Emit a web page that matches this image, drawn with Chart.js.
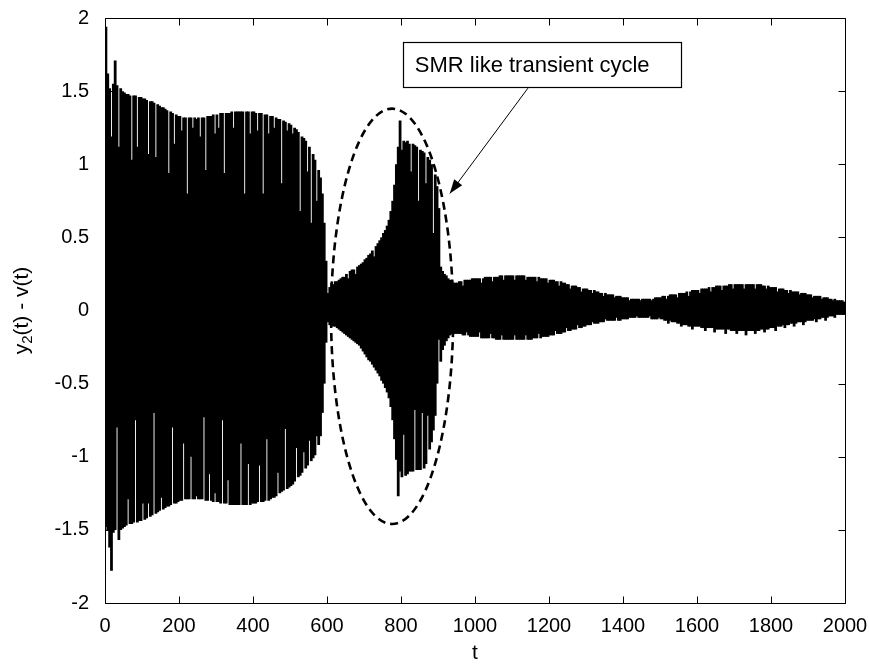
<!DOCTYPE html>
<html>
<head>
<meta charset="utf-8">
<script src="https://cdn.jsdelivr.net/npm/chart.js@4.4.1/dist/chart.umd.min.js"></script>
<style>
  html, body { margin: 0; padding: 0; background: #fff; }
  #wrap { width: 869px; height: 665px; }
</style>
</head>
<body>
<div id="wrap"><canvas id="myBarChart" width="869" height="665"></canvas></div>
<script>
// trace: one oscillation cycle every 5 time units,
// each cycle kept as its positive peak and its negative peak
const tStart = 2.5;
const tStep = 5;
const xTicks = [0, 200, 400, 600, 800, 1000, 1200, 1400, 1600, 1800, 2000];
const yTicks = [-2, -1.5, -1, -0.5, 0, 0.5, 1, 1.5, 2];

const upperPeaks = [
  // 0 - 95
  1.94, 1.62, 1.52, 1.19, 1.55, 1.71, 1.54, 1.12, 1.52, 1.50, 1.49, 1.48, 1.48, 1.47, 1.03, 1.47, 1.47, 1.12, 1.46, 1.46,
  // 100 - 195
  1.45, 1.45, 1.44, 1.07, 1.43, 1.43, 1.42, 1.05, 1.41, 1.40, 1.39, 1.39, 1.38, 1.37, 0.94, 1.36, 1.35, 1.14, 1.34, 1.33,
  // 200 - 295
  1.33, 1.23, 1.32, 1.32, 0.80, 1.32, 1.32, 1.25, 1.32, 1.31, 1.32, 1.19, 1.32, 1.32, 0.96, 1.33, 1.33, 1.33, 1.34, 1.21,
  // 300 - 395
  1.34, 1.25, 1.35, 1.35, 0.94, 1.35, 1.35, 1.35, 1.36, 1.25, 1.36, 1.36, 1.36, 1.36, 1.36, 0.80, 1.36, 1.36, 1.21, 1.36,
  // 400 - 495
  1.36, 1.35, 1.23, 1.35, 1.35, 0.80, 1.34, 1.34, 1.21, 1.33, 1.33, 1.25, 1.32, 1.31, 1.31, 0.87, 1.30, 1.29, 1.23, 1.28,
  // 500 - 595
  1.27, 1.21, 1.25, 1.24, 1.22, 0.68, 1.19, 1.18, 1.16, 0.95, 1.12, 0.60, 1.07, 1.03, 0.75, 0.96, 0.91, 0.80, 0.60, 0.34,
  // 600 - 695
  0.12, 0.16, 0.19, 0.18, 0.20, 0.20, 0.21, 0.22, 0.23, 0.23, 0.25, 0.22, 0.27, 0.28, 0.28, 0.25, 0.30, 0.31, 0.32, 0.33,
  // 700 - 795
  0.35, 0.36, 0.38, 0.39, 0.41, 0.37, 0.44, 0.46, 0.48, 0.50, 0.53, 0.55, 0.58, 0.62, 0.68, 0.75, 0.86, 1.00, 1.12, 1.30,
  // 800 - 895
  1.10, 1.16, 1.15, 1.16, 1.14, 0.95, 1.14, 1.13, 1.12, 0.75, 1.10, 1.09, 1.08, 0.87, 1.05, 1.03, 1.00, 0.53, 0.93, 0.85,
  // 900 - 995
  0.70, 0.30, 0.27, 0.25, 0.24, 0.22, 0.21, 0.20, 0.19, 0.19, 0.19, 0.20, 0.20, 0.17, 0.21, 0.21, 0.21, 0.21, 0.22, 0.22,
  // 1000 - 1095
  0.22, 0.22, 0.22, 0.19, 0.22, 0.23, 0.23, 0.23, 0.23, 0.20, 0.23, 0.23, 0.23, 0.24, 0.24, 0.21, 0.24, 0.24, 0.24, 0.24,
  // 1100 - 1195
  0.24, 0.21, 0.24, 0.24, 0.24, 0.24, 0.24, 0.21, 0.23, 0.23, 0.23, 0.23, 0.23, 0.20, 0.23, 0.22, 0.22, 0.22, 0.22, 0.19,
  // 1200 - 1295
  0.21, 0.21, 0.21, 0.20, 0.20, 0.17, 0.20, 0.19, 0.19, 0.18, 0.18, 0.15, 0.17, 0.17, 0.17, 0.16, 0.16, 0.13, 0.15, 0.15,
  // 1300 - 1395
  0.15, 0.14, 0.14, 0.12, 0.14, 0.13, 0.13, 0.12, 0.12, 0.10, 0.12, 0.11, 0.11, 0.11, 0.11, 0.09, 0.10, 0.10, 0.10, 0.09,
  // 1400 - 1495
  0.09, 0.09, 0.09, 0.07, 0.08, 0.08, 0.08, 0.08, 0.08, 0.07, 0.08, 0.08, 0.08, 0.08, 0.08, 0.07, 0.08, 0.09, 0.09, 0.09,
  // 1500 - 1595
  0.09, 0.10, 0.10, 0.08, 0.10, 0.11, 0.11, 0.11, 0.11, 0.09, 0.12, 0.12, 0.12, 0.12, 0.13, 0.10, 0.13, 0.14, 0.14, 0.14,
  // 1600 - 1695
  0.14, 0.12, 0.15, 0.15, 0.15, 0.15, 0.16, 0.13, 0.16, 0.16, 0.17, 0.17, 0.17, 0.14, 0.17, 0.17, 0.17, 0.18, 0.18, 0.15,
  // 1700 - 1795
  0.18, 0.18, 0.18, 0.18, 0.18, 0.15, 0.18, 0.18, 0.18, 0.18, 0.18, 0.15, 0.18, 0.18, 0.18, 0.17, 0.17, 0.15, 0.17, 0.16,
  // 1800 - 1895
  0.16, 0.16, 0.16, 0.13, 0.15, 0.15, 0.15, 0.14, 0.14, 0.12, 0.14, 0.13, 0.13, 0.13, 0.13, 0.11, 0.12, 0.12, 0.12, 0.11,
  // 1900 - 1995
  0.11, 0.11, 0.09, 0.10, 0.10, 0.10, 0.10, 0.08, 0.09, 0.09, 0.09, 0.08, 0.08, 0.07, 0.08, 0.07, 0.07, 0.07, 0.07, 0.06,
  // 2000
  0.06
];

const lowerPeaks = [
  // 0 - 95
  -1.48, -1.50, -1.62, -1.78, -1.52, -1.50, -0.80, -1.57, -1.50, -1.49, -1.48, -1.47, -1.29, -1.46, -1.46, -1.45, -0.75, -1.45, -1.44, -1.44,
  // 100 - 195
  -1.32, -1.43, -1.42, -1.32, -1.41, -1.40, -0.70, -1.39, -1.38, -1.37, -1.28, -1.36, -1.35, -1.34, -1.34, -1.33, -0.80, -1.32, -1.32, -1.31,
  // 200 - 295
  -1.30, -1.30, -0.91, -1.29, -1.29, -1.29, -1.00, -1.29, -1.29, -1.27, -1.29, -1.29, -1.29, -0.73, -1.30, -1.30, -1.12, -1.30, -1.31, -1.25,
  // 300 - 395
  -1.31, -1.31, -1.32, -0.75, -1.32, -1.32, -1.16, -1.33, -1.33, -1.33, -1.33, -1.33, -1.33, -0.91, -1.33, -1.33, -1.33, -1.05, -1.33, -1.32,
  // 400 - 495
  -1.32, -1.32, -1.31, -1.06, -1.31, -1.31, -1.30, -0.88, -1.30, -1.29, -1.28, -1.28, -1.27, -1.11, -1.25, -1.24, -1.23, -0.81, -1.22, -1.21,
  // 500 - 595
  -1.20, -1.19, -1.17, -0.94, -1.14, -1.13, -1.11, -0.97, -1.08, -1.06, -0.89, -1.03, -1.01, -0.99, -0.86, -0.92, -0.86, -0.70, -0.50, -0.22,
  // 600 - 695
  -0.08, -0.10, -0.10, -0.11, -0.11, -0.12, -0.13, -0.14, -0.15, -0.16, -0.17, -0.18, -0.19, -0.20, -0.21, -0.22, -0.23, -0.24, -0.26, -0.28,
  // 700 - 795
  -0.30, -0.32, -0.34, -0.35, -0.37, -0.39, -0.41, -0.43, -0.45, -0.48, -0.50, -0.53, -0.56, -0.60, -0.66, -0.75, -0.88, -1.02, -1.27, -1.10,
  // 800 - 895
  -1.14, -0.85, -1.13, -1.12, -1.10, -1.10, -1.10, -0.68, -1.09, -1.09, -1.09, -0.70, -1.08, -1.05, -0.72, -0.95, -0.90, -0.82, -0.72, -0.50,
  // 900 - 995
  -0.20, -0.35, -0.27, -0.24, -0.21, -0.19, -0.17, -0.16, -0.16, -0.16, -0.16, -0.16, -0.16, -0.17, -0.17, -0.15, -0.17, -0.18, -0.18, -0.18,
  // 1000 - 1095
  -0.18, -0.18, -0.15, -0.19, -0.19, -0.19, -0.19, -0.19, -0.16, -0.19, -0.19, -0.20, -0.20, -0.20, -0.17, -0.20, -0.20, -0.20, -0.20, -0.20,
  // 1100 - 1195
  -0.20, -0.17, -0.20, -0.20, -0.20, -0.20, -0.20, -0.17, -0.20, -0.20, -0.20, -0.19, -0.19, -0.19, -0.16, -0.19, -0.18, -0.18, -0.18, -0.18,
  // 1200 - 1295
  -0.17, -0.17, -0.17, -0.14, -0.16, -0.16, -0.16, -0.15, -0.15, -0.12, -0.14, -0.14, -0.13, -0.13, -0.13, -0.10, -0.12, -0.12, -0.11, -0.11,
  // 1300 - 1395
  -0.10, -0.10, -0.10, -0.08, -0.09, -0.09, -0.09, -0.08, -0.08, -0.08, -0.06, -0.07, -0.07, -0.07, -0.07, -0.07, -0.05, -0.07, -0.07, -0.06,
  // 1400 - 1495
  -0.06, -0.06, -0.06, -0.05, -0.05, -0.05, -0.05, -0.04, -0.05, -0.05, -0.05, -0.05, -0.05, -0.05, -0.04, -0.06, -0.06, -0.06, -0.06, -0.05,
  // 1500 - 1595
  -0.06, -0.06, -0.07, -0.07, -0.09, -0.07, -0.08, -0.08, -0.08, -0.09, -0.09, -0.11, -0.10, -0.10, -0.10, -0.11, -0.11, -0.13, -0.11, -0.11,
  // 1600 - 1695
  -0.11, -0.11, -0.12, -0.12, -0.14, -0.12, -0.12, -0.12, -0.12, -0.15, -0.13, -0.13, -0.13, -0.13, -0.13, -0.16, -0.13, -0.13, -0.14, -0.14,
  // 1700 - 1795
  -0.14, -0.16, -0.14, -0.14, -0.14, -0.14, -0.17, -0.14, -0.14, -0.14, -0.14, -0.16, -0.14, -0.14, -0.13, -0.13, -0.15, -0.13, -0.13, -0.12,
  // 1800 - 1895
  -0.12, -0.12, -0.14, -0.11, -0.11, -0.11, -0.10, -0.12, -0.10, -0.10, -0.09, -0.09, -0.11, -0.09, -0.08, -0.08, -0.08, -0.10, -0.08, -0.07,
  // 1900 - 1995
  -0.07, -0.07, -0.07, -0.06, -0.08, -0.06, -0.06, -0.05, -0.05, -0.07, -0.05, -0.04, -0.04, -0.04, -0.05, -0.03, -0.03, -0.03, -0.03, -0.03,
  // 2000
  -0.03
];

// one floating bar per cycle, spanning its negative to its positive peak
const cycleBars = upperPeaks.map((u, i) => ({ x: tStart + i * tStep, y: [lowerPeaks[i], u] }));

const FONT = '"Liberation Sans", Arial, Helvetica, sans-serif';

// box, inward ticks, axis titles and the annotation
const frameAndNotes = {
  id: 'frameAndNotes',
  afterDatasetsDraw(chart) {
    const ctx = chart.ctx;
    const a = chart.chartArea;
    const xs = chart.scales.x;
    const ys = chart.scales.y;
    const L = Math.round(a.left) + 0.5, R = Math.round(a.right) + 0.5;
    const T = Math.round(a.top) + 0.5, B = Math.round(a.bottom) + 0.5;
    const tick = 7;

    ctx.save();
    ctx.strokeStyle = '#000';
    ctx.lineWidth = 1;
    ctx.beginPath();
    ctx.rect(L, T, R - L, B - T);
    xTicks.forEach(v => {
      const px = Math.round(xs.getPixelForValue(v)) + 0.5;
      ctx.moveTo(px, B); ctx.lineTo(px, B - tick);
      ctx.moveTo(px, T); ctx.lineTo(px, T + tick);
    });
    yTicks.forEach(v => {
      const py = Math.round(ys.getPixelForValue(v)) + 0.5;
      ctx.moveTo(L, py); ctx.lineTo(L + tick, py);
      ctx.moveTo(R, py); ctx.lineTo(R - tick, py);
    });
    ctx.stroke();

    // dashed ellipse around the transient
    const cx = xs.getPixelForValue(776);
    const cy = ys.getPixelForValue(-0.04);
    const rx = xs.getPixelForValue(776 + 165) - cx;
    const ry = cy - ys.getPixelForValue(-0.04 + 1.42);
    ctx.beginPath();
    ctx.setLineDash([8, 5]);
    ctx.lineWidth = 2.6;
    ctx.ellipse(cx, cy, rx, ry, 0, 0, Math.PI * 2);
    ctx.stroke();
    ctx.setLineDash([]);

    // text box
    const bx1 = xs.getPixelForValue(805), bx2 = xs.getPixelForValue(1557);
    const by1 = ys.getPixelForValue(1.836), by2 = ys.getPixelForValue(1.528);
    ctx.fillStyle = '#fff';
    ctx.fillRect(bx1, by1, bx2 - bx1, by2 - by1);
    ctx.lineWidth = 1.2;
    ctx.strokeRect(Math.round(bx1) + 0.5, Math.round(by1) + 0.5, Math.round(bx2 - bx1), Math.round(by2 - by1));
    ctx.fillStyle = '#000';
    ctx.font = '22px ' + FONT;
    ctx.textAlign = 'left';
    ctx.textBaseline = 'middle';
    ctx.fillText('SMR like transient cycle', bx1 + 12, (by1 + by2) / 2 + 1);

    // arrow from the box to the ellipse
    const ax1 = xs.getPixelForValue(1143), ay1 = ys.getPixelForValue(1.52);
    const ax2 = xs.getPixelForValue(932), ay2 = ys.getPixelForValue(0.80);
    const ang = Math.atan2(ay2 - ay1, ax2 - ax1);
    ctx.lineWidth = 1;
    ctx.beginPath();
    ctx.moveTo(ax1, ay1);
    ctx.lineTo(ax2, ay2);
    ctx.stroke();
    const hl = 14, hw = 5;
    ctx.beginPath();
    ctx.moveTo(ax2, ay2);
    ctx.lineTo(ax2 - hl * Math.cos(ang) + hw * Math.sin(ang), ay2 - hl * Math.sin(ang) - hw * Math.cos(ang));
    ctx.lineTo(ax2 - hl * Math.cos(ang) - hw * Math.sin(ang), ay2 - hl * Math.sin(ang) + hw * Math.cos(ang));
    ctx.closePath();
    ctx.fill();

    // x title
    ctx.font = '21px ' + FONT;
    ctx.textAlign = 'center';
    ctx.textBaseline = 'middle';
    ctx.fillText('t', (a.left + a.right) / 2, 653);

    // y title with subscript, rotated
    ctx.translate(22, (a.top + a.bottom) / 2);
    ctx.rotate(-Math.PI / 2);
    const big = '21px ' + FONT, small = '15px ' + FONT;
    ctx.font = big;
    const w1 = ctx.measureText('y').width;
    const w3 = ctx.measureText('(t) - v(t)').width;
    ctx.font = small;
    const w2 = ctx.measureText('2').width;
    const x0 = -(w1 + w2 + w3) / 2;
    ctx.textAlign = 'left';
    ctx.font = big;
    ctx.fillText('y', x0, 0);
    ctx.font = small;
    ctx.fillText('2', x0 + w1, 6);
    ctx.font = big;
    ctx.fillText('(t) - v(t)', x0 + w1 + w2, 0);
    ctx.restore();
  }
};

const myBarChart = new Chart(document.getElementById('myBarChart').getContext('2d'), {
  type: 'bar',
  data: {
    datasets: [{
      data: cycleBars,
      backgroundColor: '#000',
      borderWidth: 0,
      barPercentage: 1.5,
      categoryPercentage: 1
    }]
  },
  options: {
    responsive: false,
    animation: false,
    events: [],
    layout: { padding: { left: 0, right: 24, top: 18, bottom: 0 } },
    plugins: {
      legend: { display: false },
      tooltip: { enabled: false }
    },
    scales: {
      x: {
        type: 'linear',
        offset: false,
        min: 0,
        max: 2000,
        afterBuildTicks: s => { s.ticks = xTicks.map(v => ({ value: v })); },
        afterFit: s => { s.height = 62; s.paddingLeft = 0; s.paddingRight = 0; },
        grid: { display: false, drawTicks: false, offset: false },
        border: { display: false },
        ticks: {
          color: '#000',
          padding: 11,
          maxRotation: 0,
          font: { family: FONT, size: 20 },
          callback: v => String(v)
        }
      },
      y: {
        type: 'linear',
        min: -2,
        max: 2,
        afterBuildTicks: s => { s.ticks = yTicks.map(v => ({ value: v })); },
        afterFit: s => { s.width = 105; s.paddingTop = 0; s.paddingBottom = 0; },
        grid: { display: false, drawTicks: false },
        border: { display: false },
        ticks: {
          color: '#000',
          padding: 16,
          font: { family: FONT, size: 20 },
          callback: v => String(v)
        }
      }
    }
  },
  plugins: [frameAndNotes]
});
</script>
</body>
</html>
